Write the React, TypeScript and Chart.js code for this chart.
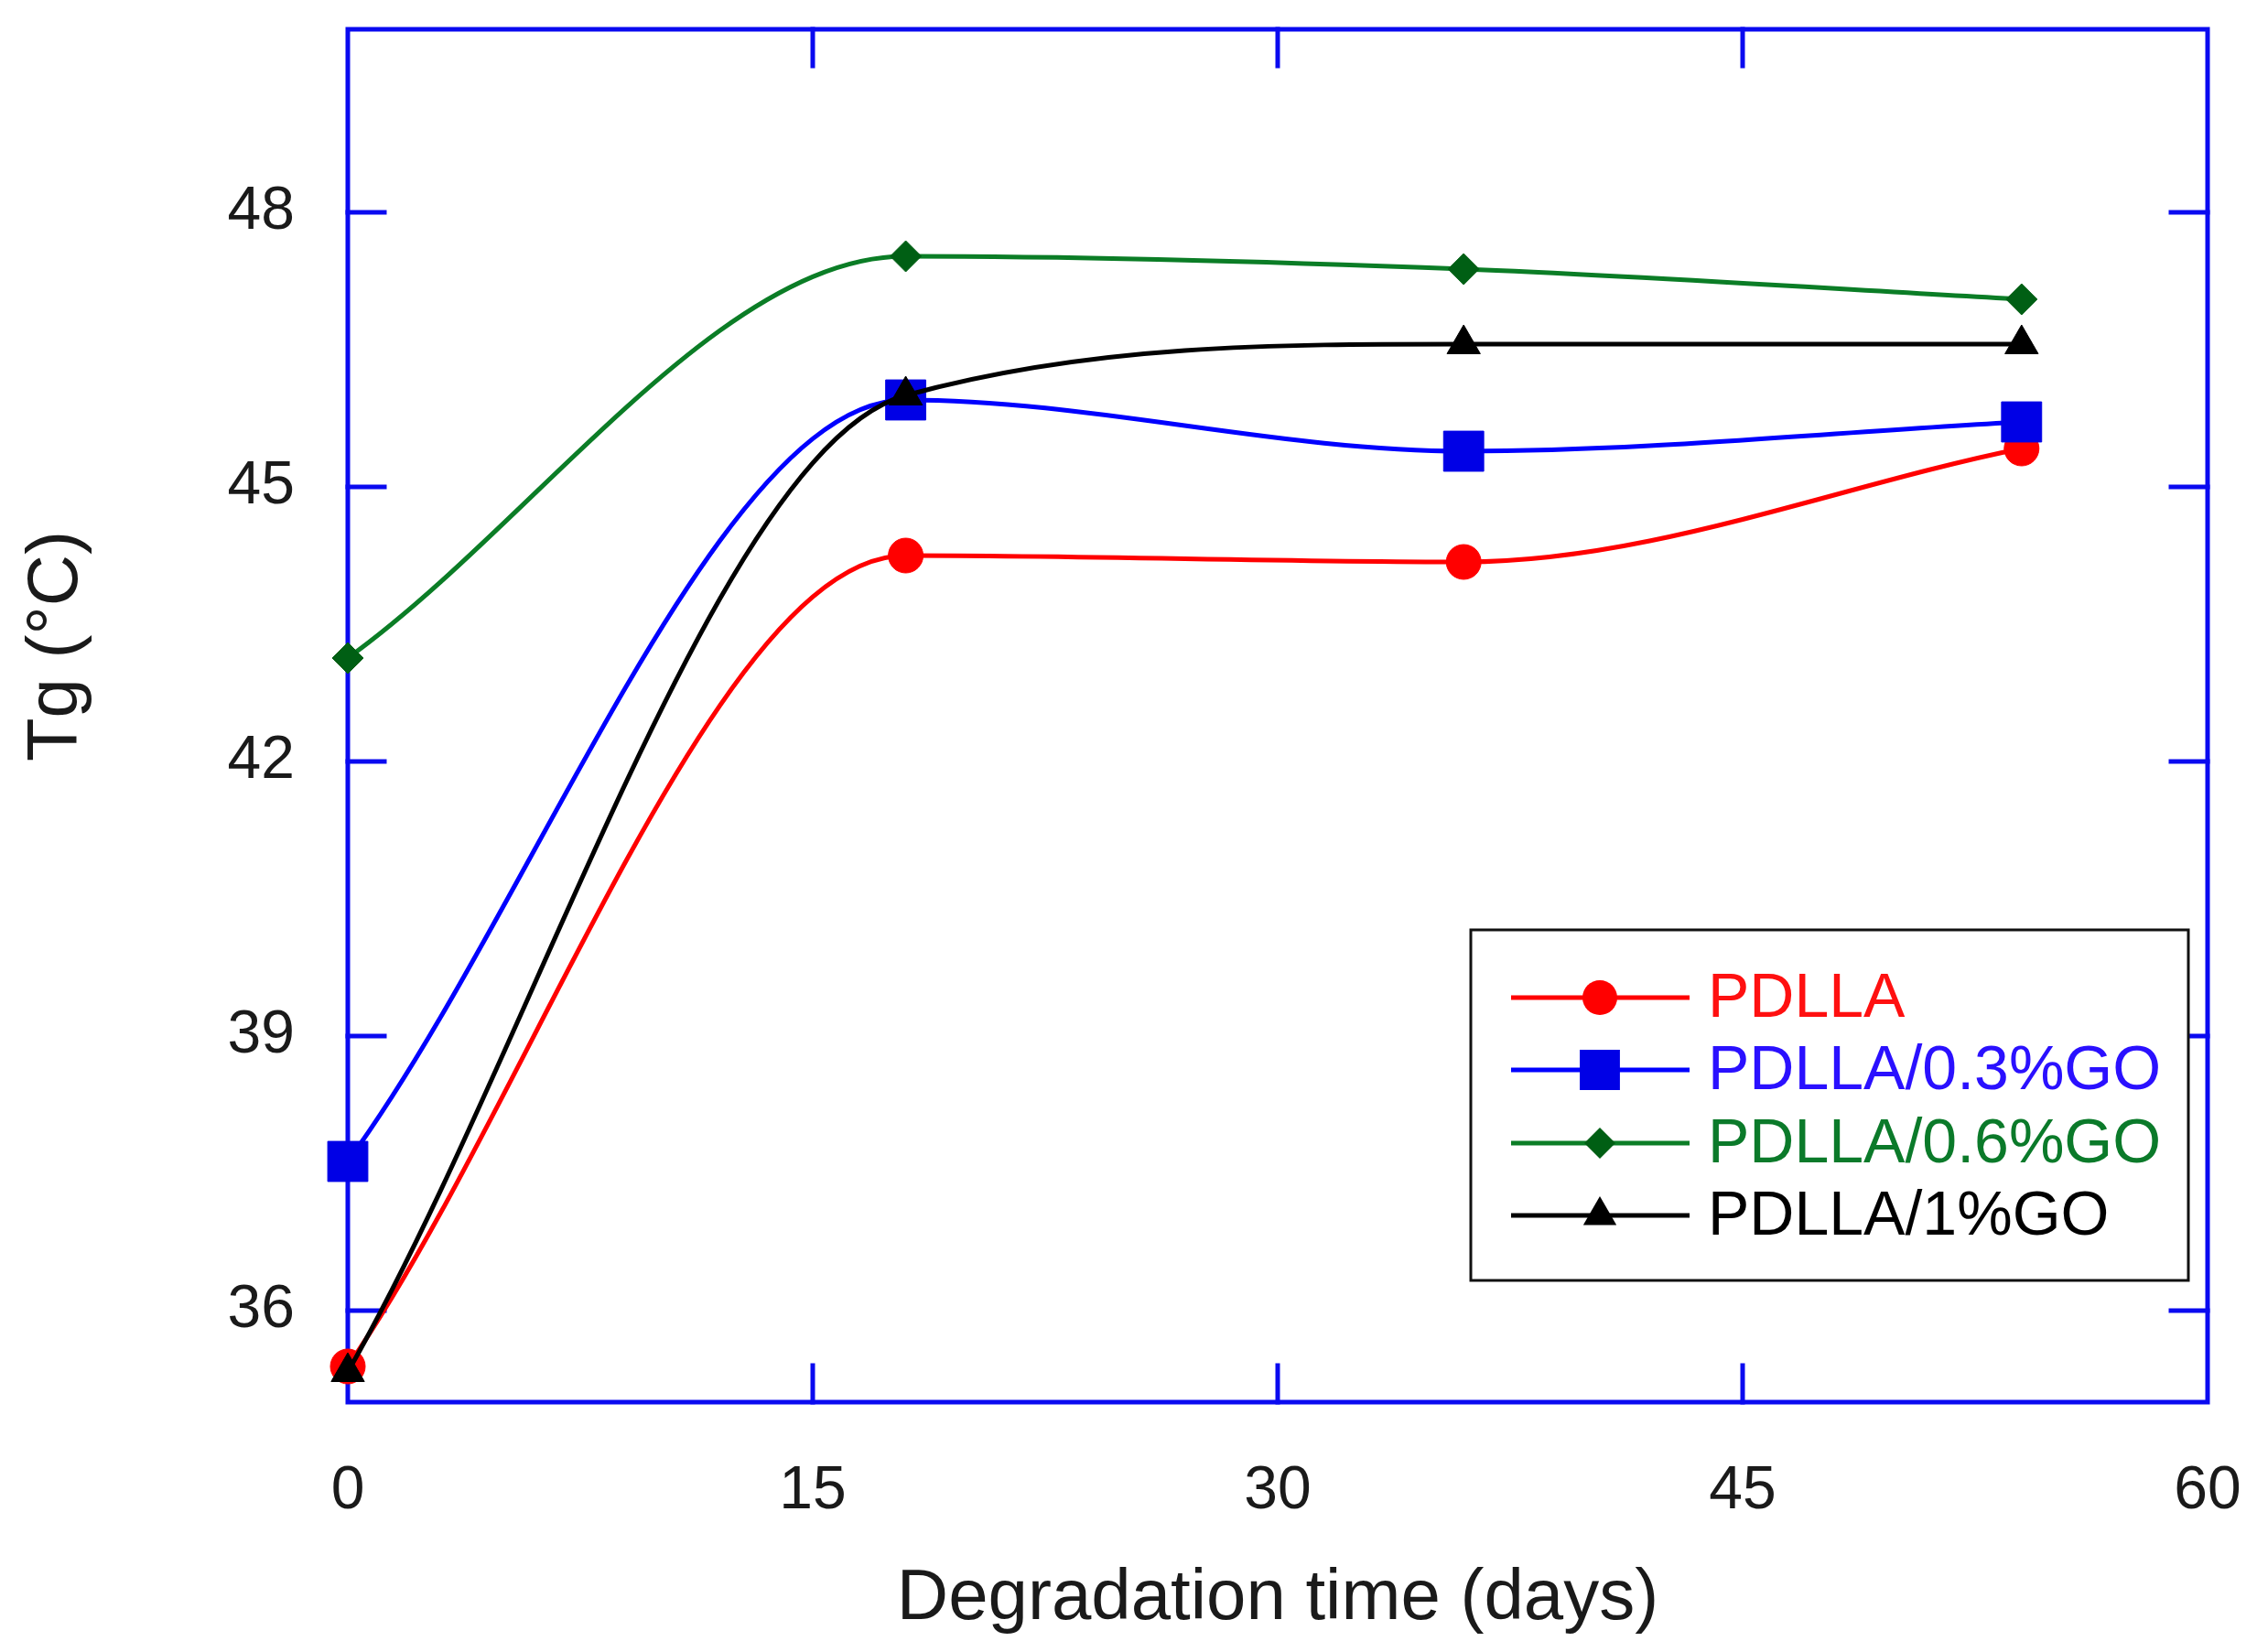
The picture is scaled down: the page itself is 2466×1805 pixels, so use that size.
import React, { useEffect, useRef } from "react";
import { Chart, registerables } from "chart.js";

Chart.register(...registerables);

// ---- data ----
const days = [0, 18, 36, 54];
const pdlla = [35.39, 44.25, 44.18, 45.42];
const go03 = [37.63, 45.95, 45.39, 45.71];
const go06 = [43.13, 47.52, 47.38, 47.05];
const go1 = [35.33, 46.0, 46.56, 46.56];
const seriesLabels = ["PDLLA", "PDLLA/0.3%GO", "PDLLA/0.6%GO", "PDLLA/1%GO"];
const xTicks = [0, 15, 30, 45, 60];
const yTicks = [36, 39, 42, 45, 48];
const xTitle = "Degradation time (days)";
const yTitle = "Tg (°C)";

// ---- style ----
const W = 2466;
const H = 1805;
const FONT = "'Liberation Sans', Arial, Helvetica, sans-serif";
const AXIS_COLOR = "#0a0af0";
const TEXT_COLOR = "#1a1a1a";
const TICK_LEN = 40;

type Series = {
  label: string;
  values: number[];
  line: string;
  marker: string;
  text: string;
  style: string;
  radius: number;
  width: number;
  order: number;
};

const series: Series[] = [
  { label: seriesLabels[0], values: pdlla, line: "#ff0000", marker: "#ff0000", text: "#ff1010", style: "circle", radius: 19, width: 5, order: 3 },
  { label: seriesLabels[1], values: go03, line: "#0000ff", marker: "#0000e6", text: "#2a10ff", style: "rect", radius: 31, width: 5, order: 2 },
  { label: seriesLabels[2], values: go06, line: "#0b7d26", marker: "#005f14", text: "#0b7a2a", style: "rectRot", radius: 17, width: 5, order: 1 },
  { label: seriesLabels[3], values: go1, line: "#000000", marker: "#000000", text: "#000000", style: "triangle", radius: 21, width: 5, order: 0 },
];

function drawMarker(ctx: CanvasRenderingContext2D, style: string, x: number, y: number, r: number) {
  ctx.beginPath();
  if (style === "circle") {
    ctx.arc(x, y, r, 0, Math.PI * 2);
  } else if (style === "rect") {
    const s = r * Math.SQRT1_2;
    ctx.rect(x - s, y - s, 2 * s, 2 * s);
  } else if (style === "rectRot") {
    ctx.moveTo(x - r, y);
    ctx.lineTo(x, y - r);
    ctx.lineTo(x + r, y);
    ctx.lineTo(x, y + r);
    ctx.closePath();
  } else {
    let a = 0;
    ctx.moveTo(x + Math.sin(a) * r, y - Math.cos(a) * r);
    a += (2 * Math.PI) / 3;
    ctx.lineTo(x + Math.sin(a) * r, y - Math.cos(a) * r);
    a += (2 * Math.PI) / 3;
    ctx.lineTo(x + Math.sin(a) * r, y - Math.cos(a) * r);
    ctx.closePath();
  }
  ctx.fill();
}

const framePlugin = {
  id: "frameTicks",
  beforeDatasetsDraw(chart: any) {
    const { ctx, chartArea: a, scales } = chart;
    const xs = scales.x;
    const ys = scales.y;
    ctx.save();
    ctx.strokeStyle = AXIS_COLOR;
    ctx.lineWidth = 5;
    ctx.lineCap = "square";
    ctx.strokeRect(a.left, a.top, a.right - a.left, a.bottom - a.top);
    ctx.beginPath();
    for (const v of xTicks) {
      if (v <= xs.min || v >= xs.max) continue;
      const px = xs.getPixelForValue(v);
      ctx.moveTo(px, a.bottom);
      ctx.lineTo(px, a.bottom - TICK_LEN);
      ctx.moveTo(px, a.top);
      ctx.lineTo(px, a.top + TICK_LEN);
    }
    for (const v of yTicks) {
      const py = ys.getPixelForValue(v);
      ctx.moveTo(a.left, py);
      ctx.lineTo(a.left + TICK_LEN, py);
      ctx.moveTo(a.right, py);
      ctx.lineTo(a.right - TICK_LEN, py);
    }
    ctx.stroke();
    ctx.restore();
  },
  afterDraw(chart: any) {
    const { ctx } = chart;
    ctx.save();
    // y-axis title
    ctx.translate(84, 706);
    ctx.rotate(-Math.PI / 2);
    ctx.fillStyle = TEXT_COLOR;
    ctx.font = `78px ${FONT}`;
    ctx.textAlign = "center";
    ctx.textBaseline = "alphabetic";
    ctx.fillText(yTitle, 0, 0);
    ctx.restore();

    // legend
    const box = { left: 1607, top: 1016, right: 2391, bottom: 1399 };
    const rows = [1090, 1169, 1249, 1328];
    ctx.save();
    ctx.fillStyle = "#ffffff";
    ctx.fillRect(box.left, box.top, box.right - box.left, box.bottom - box.top);
    ctx.strokeStyle = "#111111";
    ctx.lineWidth = 3;
    ctx.strokeRect(box.left, box.top, box.right - box.left, box.bottom - box.top);
    series.forEach((s, i) => {
      const y = rows[i];
      ctx.strokeStyle = s.line;
      ctx.lineWidth = s.width;
      ctx.beginPath();
      ctx.moveTo(1651, y);
      ctx.lineTo(1846, y);
      ctx.stroke();
      ctx.fillStyle = s.marker;
      drawMarker(ctx, s.style, 1748, y, s.radius);
      ctx.fillStyle = s.text;
      ctx.font = `68px ${FONT}`;
      ctx.textAlign = "left";
      ctx.textBaseline = "middle";
      ctx.fillText(s.label, 1866, y + 2);
    });
    ctx.restore();
  },
};

export default function App() {
  const ref = useRef<HTMLCanvasElement | null>(null);

  useEffect(() => {
    const canvas = ref.current;
    if (!canvas) return;
    Chart.defaults.font.family = FONT;
    const chart = new Chart(canvas, {
      type: "line",
      data: {
        datasets: series.map((s) => ({
          label: s.label,
          data: days.map((d, i) => ({ x: d, y: s.values[i] })),
          borderColor: s.line,
          backgroundColor: s.marker,
          borderWidth: s.width,
          pointStyle: s.style as any,
          pointRadius: s.radius,
          pointHoverRadius: s.radius,
          pointBackgroundColor: s.marker,
          pointBorderColor: s.marker,
          pointBorderWidth: 1,
          cubicInterpolationMode: "monotone",
          tension: 0.4,
          fill: false,
          clip: false as any,
          order: s.order,
        })),
      },
      options: {
        responsive: false,
        animation: false,
        devicePixelRatio: 1,
        layout: { padding: { top: 28, right: 54, left: 0, bottom: 0 } },
        plugins: {
          legend: { display: false },
          tooltip: { enabled: false },
        },
        events: [],
        scales: {
          x: {
            type: "linear",
            min: 0,
            max: 60,
            afterBuildTicks: (s: any) => {
              s.ticks = xTicks.map((v) => ({ value: v }));
            },
            afterFit: (s: any) => {
              s.height = 273;
              s.paddingLeft = 0;
              s.paddingRight = 0;
            },
            grid: { display: false, drawTicks: false, tickLength: 0 },
            border: { display: false },
            ticks: {
              color: TEXT_COLOR,
              font: { size: 66, family: FONT },
              padding: 58,
              maxRotation: 0,
              autoSkip: false,
            },
            title: {
              display: true,
              text: xTitle,
              color: TEXT_COLOR,
              font: { size: 78, family: FONT },
              padding: { top: 0, bottom: 11 },
            },
          },
          y: {
            type: "linear",
            min: 35,
            max: 50,
            afterBuildTicks: (s: any) => {
              s.ticks = yTicks.map((v) => ({ value: v }));
            },
            afterFit: (s: any) => {
              s.width = 380;
              s.paddingTop = 0;
              s.paddingBottom = 0;
            },
            grid: { display: false, drawTicks: false, tickLength: 0 },
            border: { display: false },
            ticks: {
              color: TEXT_COLOR,
              font: { size: 66, family: FONT },
              padding: 58,
              autoSkip: false,
            },
          },
        },
      },
      plugins: [framePlugin],
    } as any);
    return () => chart.destroy();
  }, []);

  return (
    <div style={{ position: "absolute", left: 0, top: 0, width: W, height: H, background: "#ffffff" }}>
      <canvas ref={ref} width={W} height={H} style={{ display: "block", width: W, height: H }} />
    </div>
  );
}
